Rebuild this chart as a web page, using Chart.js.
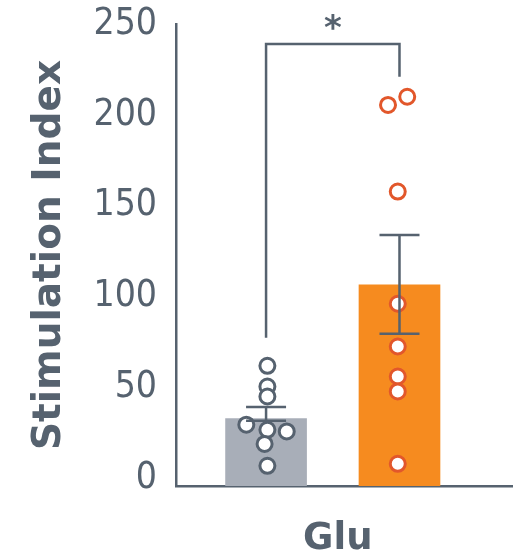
<!DOCTYPE html>
<html>
<head>
<meta charset="utf-8">
<script src="https://cdn.jsdelivr.net/npm/chart.js@4"></script>
<style>
  body { margin: 0; background: #fff; }
</style>
</head>
<body>
<canvas id="myChart" width="523" height="558"></canvas>
<script>
// group positions on the x scale and their summary values
var positions = [1, 2];
var means = [33, 106.6];
var errLow = [31.9, 79.7];
var errHigh = [39.4, 134];

// individual points (value + small horizontal jitter in x units)
var grayPoints = [62.1, 50.7, 45.2, 29.7, 26.9, 26, 19.1, 7.1];
var grayJitter = [0.01, 0.01, 0.01, -0.148, 0.01, 0.155, -0.011, 0.01];
var orangePoints = [205.5, 210, 157.9, 96.2, 72.7, 56.2, 48, 8.2];
var orangeJitter = [-0.086, 0.058, -0.013, -0.013, -0.013, -0.013, -0.013, -0.013];

var yTicks = [0, 50, 100, 150, 200, 250];
var yMin = -4, yMax = 250;

// significance bracket
var bracketTop = 239, bracketLeftEnd = 77.5, bracketRightEnd = 221;

var ink = '#56626f';
var grayBar = '#a8aeb8';
var orangeBar = '#f68b1f';
var orangeRing = '#e2572b';

var overlay = {
  id: 'overlay',
  afterDatasetsDraw: function(chart) {
    var ctx = chart.ctx, x = chart.scales.x, y = chart.scales.y;
    ctx.save();
    ctx.strokeStyle = ink;
    ctx.lineWidth = 2.5;
    positions.forEach(function(p, i) {
      var px = x.getPixelForValue(p);
      var top = y.getPixelForValue(errHigh[i]);
      var bot = y.getPixelForValue(errLow[i]);
      ctx.beginPath();
      ctx.moveTo(px, top); ctx.lineTo(px, bot);
      ctx.moveTo(px - 20, top); ctx.lineTo(px + 20, top);
      ctx.moveTo(px - 20, bot); ctx.lineTo(px + 20, bot);
      ctx.stroke();
    });
    var lx = x.getPixelForValue(positions[0]), rx = x.getPixelForValue(positions[1]);
    ctx.beginPath();
    ctx.moveTo(lx, y.getPixelForValue(bracketLeftEnd));
    ctx.lineTo(lx, y.getPixelForValue(bracketTop));
    ctx.lineTo(rx, y.getPixelForValue(bracketTop));
    ctx.lineTo(rx, y.getPixelForValue(bracketRightEnd));
    ctx.stroke();
    ctx.fillStyle = ink;
    ctx.font = 'bold 34px "DejaVu Sans"';
    ctx.textAlign = 'center';
    ctx.textBaseline = 'middle';
    ctx.fillText('*', (lx + rx) / 2, y.getPixelForValue(bracketTop) - 14);
    ctx.restore();
  }
};

var ctx = document.getElementById('myChart').getContext('2d');
var myChart = new Chart(ctx, {
  type: 'bar',
  data: {
    datasets: [{
      type: 'scatter',
      data: grayPoints.map(function(v, i) { return {x: positions[0] + grayJitter[i], y: v}; }),
      radius: 7.5,
      borderWidth: 3,
      backgroundColor: '#fff',
      borderColor: ink,
      order: 0
    }, {
      type: 'scatter',
      data: orangePoints.map(function(v, i) { return {x: positions[1] + orangeJitter[i], y: v}; }),
      radius: 7.5,
      borderWidth: 3,
      backgroundColor: '#fff',
      borderColor: orangeRing,
      order: 0
    }, {
      type: 'bar',
      data: positions.map(function(p, i) { return {x: p, y: means[i]}; }),
      backgroundColor: [grayBar, orangeBar],
      borderWidth: 0,
      barThickness: 81,
      base: yMin,
      order: 1
    }]
  },
  options: {
    responsive: false,
    animation: false,
    layout: { padding: { top: 24, right: 9, left: 0, bottom: 0 } },
    plugins: { legend: { display: false }, tooltip: { enabled: false } },
    scales: {
      x: {
        type: 'linear',
        offset: false,
        min: 0.325,
        max: 2.847,
        grid: { display: false, drawTicks: false },
        border: { display: true, color: ink, width: 2.5 },
        ticks: { display: false },
        title: {
          display: true,
          text: 'Glu ',
          color: ink,
          font: { family: 'DejaVu Sans', size: 37, weight: 'bold', lineHeight: 1 },
          padding: { top: 0, bottom: 0 }
        },
        afterFit: function(s) { s.height = 72; }
      },
      y: {
        min: yMin,
        max: yMax,
        afterBuildTicks: function(s) { s.ticks = yTicks.map(function(v) { return {value: v}; }); },
        grid: { display: false, drawTicks: false },
        border: { display: true, color: ink, width: 2.5 },
        ticks: {
          color: ink,
          padding: 19,
          font: { family: 'DejaVu Sans Condensed', size: 37, lineHeight: 1 }
        },
        title: {
          display: true,
          text: 'Stimulation Index',
          color: ink,
          font: { family: 'DejaVu Sans', size: 39, weight: 'bold', lineHeight: 1 },
          padding: { top: 30, bottom: 0 }
        },
        afterFit: function(s) { s.width = 176; s.paddingTop = 0; s.paddingBottom = 0; }
      }
    }
  },
  plugins: [overlay]
});
</script>
</body>
</html>
